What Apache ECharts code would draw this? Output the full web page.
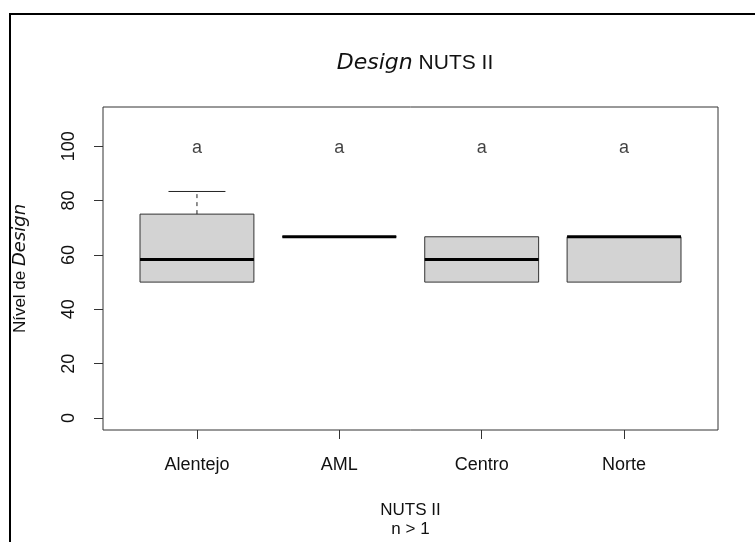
<!DOCTYPE html>
<html>
<head>
<meta charset="utf-8">
<script src="https://cdn.jsdelivr.net/npm/echarts@6/dist/echarts.min.js"></script>
<style>html,body{margin:0;padding:0;background:#fff}#c{width:755px;height:542px}</style>
</head>
<body>
<div id="c"></div>
<script>
const categories = ['Alentejo', 'AML', 'Centro', 'Norte'];
const whiskerLow = [50, 66.67, 50, 50];
const q1 = [50, 66.67, 50, 50];
const median = [58.33, 66.67, 58.33, 66.67];
const q3 = [75, 66.67, 66.67, 66.67];
const whiskerHigh = [83.33, 66.67, 66.67, 66.67];
const groupLetters = ['a', 'a', 'a', 'a'];
const letterLevel = [100, 100, 100, 100];
const yTicks = [0, 20, 40, 60, 80, 100];

const FONT = "'Liberation Sans', Arial, sans-serif";
const ITAL = "'DejaVu Sans', 'Liberation Sans', sans-serif";

const boxData = categories.map((c, i) => [i + 1, whiskerLow[i], q1[i], median[i], q3[i], whiskerHigh[i]]);
const letterData = categories.map((c, i) => [i + 1, letterLevel[i], groupLetters[i]]);

function renderBox(params, api) {
  const x = api.value(0);
  const pLo = api.coord([x, api.value(1)]);
  const pQ1 = api.coord([x, api.value(2)]);
  const pMed = api.coord([x, api.value(3)]);
  const pQ3 = api.coord([x, api.value(4)]);
  const pHi = api.coord([x, api.value(5)]);
  const hw = api.size([0.8, 0])[0] / 2;
  const cx = pMed[0];
  const children = [];
  children.push({
    type: 'rect',
    shape: { x: cx - hw, y: pQ3[1], width: 2 * hw, height: pQ1[1] - pQ3[1] },
    style: { fill: '#d3d3d3', stroke: '#333', lineWidth: 1 }
  });
  if (pHi[1] < pQ3[1] - 0.5) {
    children.push({ type: 'line', shape: { x1: cx, y1: pQ3[1], x2: cx, y2: pHi[1] },
      style: { stroke: '#222', lineWidth: 1, lineDash: [4, 4] } });
    children.push({ type: 'line', shape: { x1: cx - hw / 2, y1: pHi[1], x2: cx + hw / 2, y2: pHi[1] },
      style: { stroke: '#222', lineWidth: 1 } });
  }
  if (pLo[1] > pQ1[1] + 0.5) {
    children.push({ type: 'line', shape: { x1: cx, y1: pQ1[1], x2: cx, y2: pLo[1] },
      style: { stroke: '#222', lineWidth: 1, lineDash: [4, 4] } });
    children.push({ type: 'line', shape: { x1: cx - hw / 2, y1: pLo[1], x2: cx + hw / 2, y2: pLo[1] },
      style: { stroke: '#222', lineWidth: 1 } });
  }
  children.push({ type: 'line', shape: { x1: cx - hw, y1: pMed[1], x2: cx + hw, y2: pMed[1] },
    style: { stroke: '#000', lineWidth: 3 } });
  return { type: 'group', children };
}

const chart = echarts.init(document.getElementById('c'), null, { renderer: 'canvas' });
chart.setOption({
  animation: false,
  backgroundColor: '#fff',
  title: {
    text: '{i|Design} NUTS II',
    left: 410,
    top: 47,
    textAlign: 'center',
    textStyle: {
      fontFamily: FONT, fontSize: 21, fontWeight: 'normal', color: '#111',
      rich: { i: { fontFamily: ITAL, fontStyle: 'italic', fontSize: 22, color: '#111' } }
    }
  },
  graphic: [{
    type: 'polyline',
    shape: { points: [[10, 542], [10, 14], [755, 14]] },
    style: { stroke: '#000', lineWidth: 2, fill: null },
    silent: true
  }],
  grid: {
    left: 103, right: 37, top: 107, bottom: 112,
    outerBoundsMode: 'none', containLabel: false,
    show: true, borderColor: '#333', borderWidth: 1, backgroundColor: 'transparent'
  },
  xAxis: {
    type: 'value', min: 0.34, max: 4.66,
    axisLine: { show: false, onZero: false },
    splitLine: { show: false },
    axisTick: { show: true, customValues: [1, 2, 3, 4], length: 9, lineStyle: { color: '#333' } },
    axisLabel: {
      customValues: [1, 2, 3, 4], margin: 26,
      formatter: v => categories[Math.round(v) - 1] || '',
      fontFamily: FONT, fontSize: 18, color: '#111'
    },
    name: 'NUTS II\nn > 1',
    nameLocation: 'middle',
    nameGap: 71,
    nameTextStyle: { fontFamily: FONT, fontSize: 17, color: '#111', lineHeight: 19 }
  },
  yAxis: {
    type: 'value', min: -4.4, max: 114.4,
    axisLine: { show: false, onZero: false },
    splitLine: { show: false },
    axisTick: { show: true, customValues: yTicks, length: 9, lineStyle: { color: '#333' } },
    axisLabel: {
      customValues: yTicks, rotate: 90, margin: 25,
      fontFamily: FONT, fontSize: 18, color: '#111'
    },
    name: 'Nível de {i|Design}',
    nameLocation: 'middle',
    nameRotate: 90,
    nameGap: 74,
    nameTextStyle: {
      fontFamily: FONT, fontSize: 17, color: '#111',
      rich: { i: { fontFamily: ITAL, fontStyle: 'italic', fontSize: 18, color: '#111' } }
    }
  },
  series: [{
    type: 'custom',
    renderItem: renderBox,
    data: boxData,
    encode: { x: 0, y: [1, 2, 3, 4, 5] },
    silent: true
  }, {
    type: 'scatter',
    data: letterData,
    symbolSize: 0,
    silent: true,
    label: {
      show: true, position: 'inside', offset: [0, 2], formatter: p => p.data[2],
      fontFamily: FONT, fontSize: 18, color: '#111'
    }
  }]
});
</script>
</body>
</html>
